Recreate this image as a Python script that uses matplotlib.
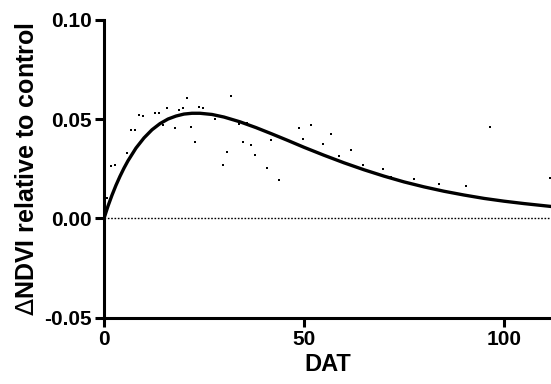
import numpy as np
import matplotlib.pyplot as plt

plt.rcParams['font.family'] = ['Liberation Sans', 'DejaVu Sans']
plt.rcParams['font.weight'] = 'bold'
plt.rcParams['mathtext.fontset'] = 'custom'
plt.rcParams['mathtext.rm'] = 'DejaVu Sans:normal'

# scatter of daily observations (DAT, delta NDVI)
dat = [0.7, 1.75, 2.75, 5.7, 6.75, 7.7, 8.75, 9.75, 12.75, 13.75, 14.75, 15.75,
       17.75, 18.75, 19.7, 20.7, 21.75, 22.75, 23.75, 24.7, 27.75, 29.75, 30.75,
       31.75, 33.75, 34.75, 35.75, 36.7, 37.7, 40.7, 41.7, 42.7, 43.7, 48.7, 49.7,
       51.7, 54.7, 56.7, 58.7, 61.7, 64.7, 69.7, 71.7, 77.5, 83.7, 90.6, 96.5, 111.5]
dndvi = [0.0104, 0.0262, 0.0267, 0.0327, 0.0447, 0.0447, 0.0522, 0.0515, 0.0532,
         0.0532, 0.0470, 0.0557, 0.0457, 0.0544, 0.0554, 0.0604, 0.0460, 0.0387,
         0.0560, 0.0555, 0.0502, 0.0269, 0.0332, 0.0615, 0.0474, 0.0387, 0.0479,
         0.0369, 0.0319, 0.0255, 0.0397, 0.0422, 0.0194, 0.0457, 0.0399, 0.0472,
         0.0374, 0.0424, 0.0312, 0.0344, 0.0270, 0.0250, 0.0210, 0.0199, 0.0172,
         0.0165, 0.0462, 0.0204]

# fitted curve
fit_x = [0, 1, 2, 3, 4, 5, 6, 8, 10, 12, 14, 16, 18, 20, 22, 24, 27, 30, 34, 38,
         42, 46, 50, 55, 60, 65, 70, 75, 80, 85, 90, 95, 100, 105, 112]
fit_y = [0.0, 0.0062, 0.0117, 0.0167, 0.0212, 0.0253, 0.0290, 0.0354, 0.0405,
         0.0446, 0.0477, 0.0500, 0.0515, 0.0525, 0.0529, 0.0529, 0.0523, 0.0510,
         0.0486, 0.0457, 0.0425, 0.0392, 0.0358, 0.0318, 0.0280, 0.0245, 0.0213,
         0.0184, 0.0159, 0.0137, 0.0118, 0.0101, 0.0087, 0.0075, 0.0060]

fig = plt.figure(figsize=(5.51, 3.84), dpi=100)
ax = fig.add_axes([0.1887, 0.172, 0.8113, 0.777])

ax.scatter(dat, dndvi, s=3, color='black', marker='s', linewidths=0)
ax.plot(fit_x, fit_y, color='black', lw=2.4, solid_capstyle='butt')
ax.axhline(0, color='black', lw=1, ls=(0, (1.2, 1.2)))

ax.set_xlim(0, 111.75)
ax.set_ylim(-0.05, 0.10)
ax.set_xticks([0, 50, 100])
ax.set_yticks([-0.05, 0.0, 0.05, 0.10])
ax.set_yticklabels(['-0.05', '0.00', '0.05', '0.10'])

for s in ['top', 'right']:
    ax.spines[s].set_visible(False)
for s in ['left', 'bottom']:
    ax.spines[s].set_linewidth(2.2)
ax.tick_params(width=2.2, length=6.5, labelsize=15, pad=2)

ax.set_xlabel('DAT', fontsize=17, fontweight='bold', labelpad=3)
ax.set_ylabel(r'$\mathrm{\Delta}$NDVI relative to control', fontsize=18,
              fontweight='bold', labelpad=4)

fig.savefig('out.png', dpi=100)
